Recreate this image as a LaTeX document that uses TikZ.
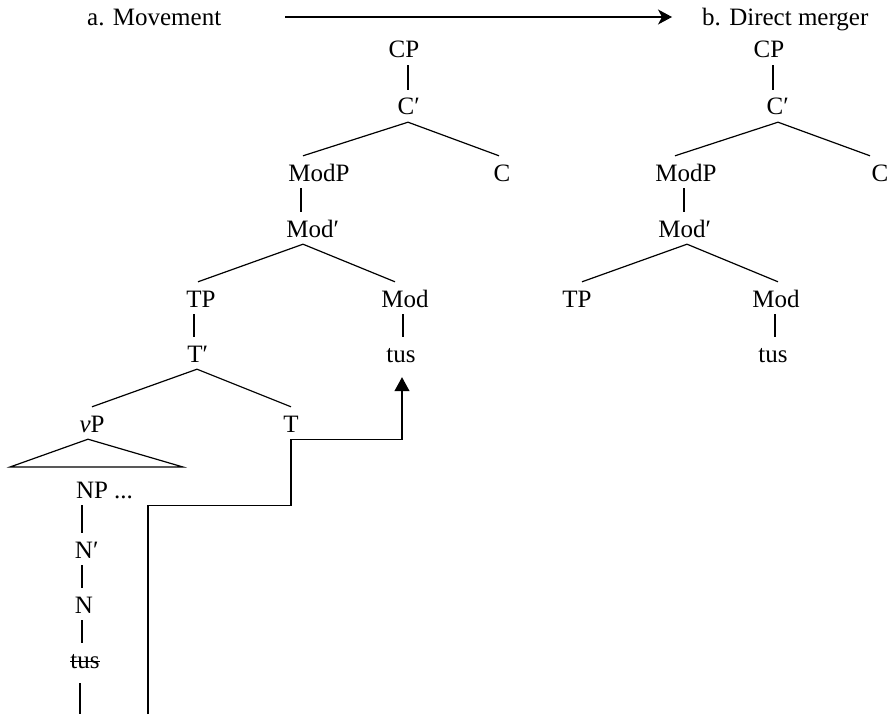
\documentclass[tikz,border=0pt]{standalone}
\usepackage{fontspec}
\setmainfont{Liberation Serif}
\usetikzlibrary{arrows.meta}

% struck-through trace
\newlength\strklen
\newcommand{\struck}[1]{\settowidth{\strklen}{#1}\rlap{#1}\rule[0.24em]{\strklen}{0.05em}}

\begin{document}
\begin{tikzpicture}[
                      x=1pt, y=-1pt,
                      every node/.style={font=\fontsize{25}{30}\selectfont},
                      cat/.style={inner sep=0pt, text height=25pt, text depth=7pt},
                      branch/.style={line width=1.2pt},
                      move/.style={line width=1.2pt, -{Triangle[length=14pt,width=15pt]}, shorten >=8pt},
                  ]
                  \useasboundingbox (0,0) rectangle (890,714);

                  % Headings
                  \node[cat, anchor=base west] (mova) at (87,26)  {a. Movement};
                  \node[cat, anchor=base west] (movb) at (702,26) {b. Direct merger};
                  \draw[branch, -{Stealth[length=14pt,width=15pt,inset=4pt]}, shorten <=64pt, shorten >=30pt] (mova.east) -- (movb.west);

                  % Nodes (a)
                  \node[cat] (cpa)     at (404,49)  {CP};
                  \node[cat] (cbara)   at (406,106) {C\rlap{′}};
                  \node[cat] (modpa)   at (319,172) {ModP};
                  \node[cat] (ca)      at (502,172) {C};
                  \node[cat] (modbara) at (310,228) {Mod\rlap{′}};
                  \node[cat] (tpa)     at (201,298) {TP};
                  \node[cat] (moda)    at (405,298) {Mod};
                  \node[cat] (tbara)   at (195,353) {T\rlap{′}};
                  \node[cat] (tusa)    at (401,353) {tus};
                  \node[cat] (vpa)     at (92,423)  {\textit{v}P};
                  \node[cat] (ta)      at (291,423) {T};
                  \node[cat] (npa)     at (92,489)  {NP\rlap{ ...}};
                  \node[cat] (nbara)   at (84,549)  {N\rlap{′}};
                  \node[cat] (na)      at (84,604)  {N};
                  \node[cat] (tracea)  at (85,659)  {\struck{tus}};
                  \coordinate (vpl)   at (10,467);
                  \coordinate (vpr)   at (183,467);
                  \coordinate (tailn) at (80,714);
                  \coordinate (tailm) at (148,714);

                  % Nodes (b)
                  \node[cat] (cpb)     at (769,49)  {CP};
                  \node[cat] (cbarb)   at (775,106) {C\rlap{′}};
                  \node[cat] (modpb)   at (686,172) {ModP};
                  \node[cat] (cb)      at (880,172) {C};
                  \node[cat] (modbarb) at (682,228) {Mod\rlap{′}};
                  \node[cat] (tpb)     at (577,298) {TP};
                  \node[cat] (modb)    at (776,298) {Mod};
                  \node[cat] (tusb)    at (773,353) {tus};

                  % Lines (a)
                  \draw[branch] ([xshift=4pt]cpa.south) -- ([xshift=2pt]cbara.north);
                  \draw[branch] ([xshift=2pt]cbara.south) -- ([xshift=-16pt]modpa.north);
                  \draw[branch] ([xshift=2pt]cbara.south) -- ([xshift=-3pt]ca.north);
                  \draw[branch] ([xshift=-18pt]modpa.south) -- ([xshift=-9pt]modbara.north);
                  \draw[branch] ([xshift=-7pt]modbara.south) -- ([xshift=-3pt]tpa.north);
                  \draw[branch] ([xshift=-7pt]modbara.south) -- ([xshift=-10pt]moda.north);
                  \draw[branch] ([xshift=-7pt]tpa.south) -- ([xshift=-1pt]tbara.north);
                  \draw[branch] ([xshift=-2pt]moda.south) -- ([xshift=2pt]tusa.north);
                  \draw[branch] ([xshift=2pt]tbara.south) -- (vpa.north);
                  \draw[branch] ([xshift=2pt]tbara.south) -- (ta.north);
                  \draw[branch] ([xshift=-4pt]vpa.south) -- (vpl) -- (vpr) -- cycle;
                  \draw[branch] ([xshift=-10pt]npa.south) -- ([xshift=-2pt]nbara.north);
                  \draw[branch] ([xshift=-2pt]nbara.south) -- ([xshift=-2pt]na.north);
                  \draw[branch] ([xshift=-2pt]na.south) -- ([xshift=-3pt]tracea.north);
                  \draw[branch, shorten <=8pt] ([xshift=-5pt]tracea.south) -- (tailn);
                  \draw[move] (tailm) -- (tailm |- npa.south) -| (ta.south) -| ([xshift=1pt]tusa.south);

                  % Lines (b)
                  \draw[branch] ([xshift=4pt]cpb.south) -- ([xshift=-2pt]cbarb.north);
                  \draw[branch] ([xshift=3pt]cbarb.south) -- ([xshift=-11pt]modpb.north);
                  \draw[branch] ([xshift=3pt]cbarb.south) -- ([xshift=-10pt]cb.north);
                  \draw[branch] ([xshift=-2pt]modpb.south) -- ([xshift=2pt]modbarb.north);
                  \draw[branch] ([xshift=5pt]modbarb.south) -- ([xshift=5pt]tpb.north);
                  \draw[branch] ([xshift=5pt]modbarb.south) -- ([xshift=2pt]modb.north);
                  \draw[branch] ([xshift=-1pt]modb.south) -- ([xshift=2pt]tusb.north);
\end{tikzpicture}
\end{document}
